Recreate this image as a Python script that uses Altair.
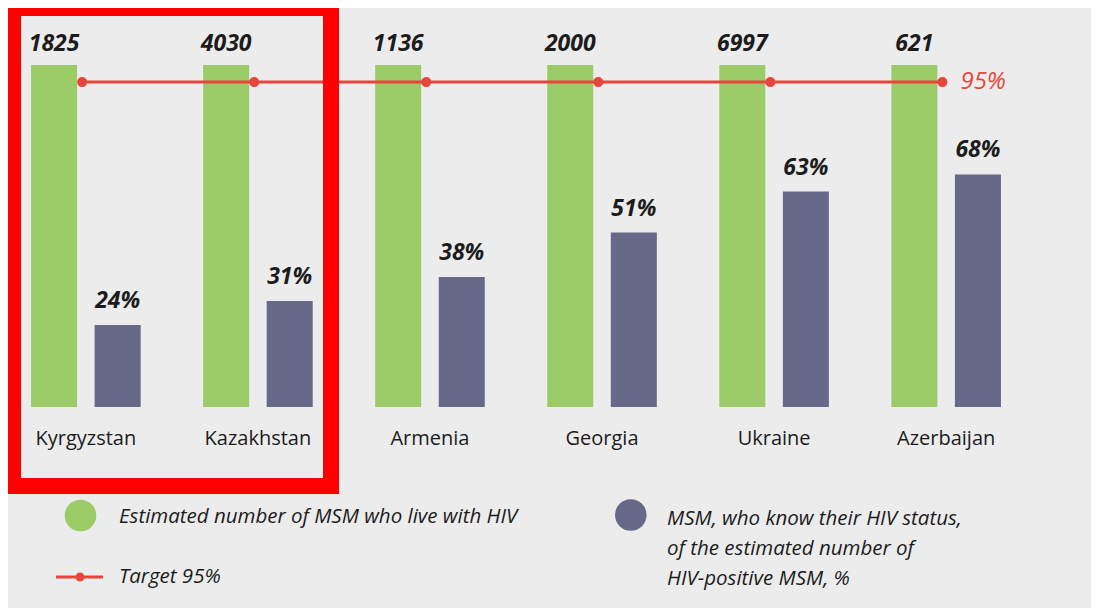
import altair as alt
import pandas as pd

countries = ["Kyrgyzstan", "Kazakhstan", "Armenia", "Georgia", "Ukraine", "Azerbaijan"]
estimated_msm_hiv = [1825, 4030, 1136, 2000, 6997, 621]
know_status_pct = [24, 31, 38, 51, 63, 68]
estimated_share = [100, 100, 100, 100, 100, 100]
target_pct = 95
series_keys = ["est", "know"]
series_colors = ["#9ccc68", "#686889"]
legend_est = "Estimated number of MSM who live with HIV"
legend_know = "MSM, who know their HIV status,\nof the estimated number of\nHIV-positive MSM, %"
legend_target = "Target 95%"
target_label = "95%"

FONT = "Open Sans"
RED = "#e8453c"
TXT = "#1c1c1c"

bars_df = pd.DataFrame({
    "country": countries * 2,
    "series": ["est"] * len(countries) + ["know"] * len(countries),
    "value": estimated_share + know_status_pct,
})
count_df = pd.DataFrame({"country": countries, "series": "est", "value": estimated_share,
                         "label": [str(v) for v in estimated_msm_hiv]})
pct_df = pd.DataFrame({"country": countries, "series": "know", "value": know_status_pct,
                       "label": [f"{v}%" for v in know_status_pct]})
cat_df = pd.DataFrame({"country": countries, "value": [0] * len(countries)})
target_df = pd.DataFrame({"country": countries, "target": [target_pct] * len(countries)})
target_lab_df = pd.DataFrame({"country": [countries[-1]], "target": [target_pct], "label": [target_label]})

xscale = alt.Scale(domain=countries, paddingInner=0.363, paddingOuter=0.134)
oscale = alt.Scale(domain=series_keys, paddingInner=0.276, paddingOuter=0)
yscale = alt.Scale(domain=[0, 100], nice=False, zero=True)

x_noaxis = alt.X("country:N", scale=xscale, sort=countries, axis=None)
xo = alt.XOffset("series:N", scale=oscale)
y_val = alt.Y("value:Q", scale=yscale, axis=None)

bars = alt.Chart(bars_df).mark_bar().encode(
    x=x_noaxis, xOffset=xo, y=y_val,
    color=alt.Color("series:N", scale=alt.Scale(domain=series_keys, range=series_colors), legend=None),
)

counts = alt.Chart(count_df).mark_text(
    font=FONT, fontSize=23, fontWeight="bold", fontStyle="italic", color=TXT,
    baseline="alphabetic", dy=-14
).encode(x=x_noaxis, xOffset=xo, y=y_val, text="label:N")

pcts = alt.Chart(pct_df).mark_text(
    font=FONT, fontSize=23, fontWeight="bold", fontStyle="italic", color=TXT,
    baseline="alphabetic", dy=-17
).encode(x=x_noaxis, xOffset=xo, y=y_val, text="label:N")

cats = alt.Chart(cat_df).mark_text(
    font=FONT, fontSize=20, color=TXT, baseline="alphabetic", dy=38
).encode(x=x_noaxis, y=y_val, text="country:N")

x_target = alt.X("country:N", scale=xscale, sort=countries, axis=None, bandPosition=0.466)
y_target = alt.Y("target:Q", scale=yscale, axis=None)
tline = alt.Chart(target_df).mark_line(color=RED, strokeWidth=3).encode(x=x_target, y=y_target)
tdots = alt.Chart(target_df).mark_circle(color=RED, size=100, opacity=1).encode(x=x_target, y=y_target)
tlab = alt.Chart(target_lab_df).mark_text(
    font=FONT, fontSize=24, fontStyle="italic", color=RED, align="left", baseline="middle", dx=18
).encode(x=x_target, y=y_target, text="label:N")

one = pd.DataFrame({"k": [0]})
frame = alt.Chart(one).mark_rect(fill=None, fillOpacity=0, stroke="#ff0000", strokeWidth=16).encode(
    x=alt.value(5), x2=alt.value(323), y=alt.value(-57), y2=alt.value(421))

leg_est_dot = alt.Chart(one).mark_circle(color=series_colors[0], size=995, opacity=1).encode(
    x=alt.value(72.5), y=alt.value(450.5))
leg_know_dot = alt.Chart(one).mark_circle(color=series_colors[1], size=995, opacity=1).encode(
    x=alt.value(622.8), y=alt.value(450))
leg_line = alt.Chart(one).mark_rule(color=RED, strokeWidth=3).encode(
    x=alt.value(48), x2=alt.value(95), y=alt.value(512))
leg_line_dot = alt.Chart(one).mark_circle(color=RED, size=80, opacity=1).encode(
    x=alt.value(72), y=alt.value(512))

def legend_text(txt, x, y):
    return alt.Chart(pd.DataFrame({"t": [txt]})).mark_text(
        font=FONT, fontSize=20.5, fontStyle="italic", color=TXT, align="left",
        baseline="alphabetic", lineBreak="\n", lineHeight=30
    ).encode(x=alt.value(x), y=alt.value(y), text="t:N")

leg_t1 = legend_text(legend_est, 111, 458)
leg_t2 = legend_text(legend_know, 659, 460)
leg_t3 = legend_text(legend_target, 111, 518)

chart = alt.layer(
    bars, tline, tdots, counts, pcts, cats, tlab, frame,
    leg_est_dot, leg_know_dot, leg_line, leg_line_dot, leg_t1, leg_t2, leg_t3
).properties(
    width=1016, height=342,
    padding={"left": 0, "top": 57, "right": 67, "bottom": 201},
    autosize=alt.AutoSizeParams(type="none"),
).configure(background="#ececec").configure_view(stroke=None)

chart.save("out.html", embed_options={"renderer": "svg", "actions": False})
